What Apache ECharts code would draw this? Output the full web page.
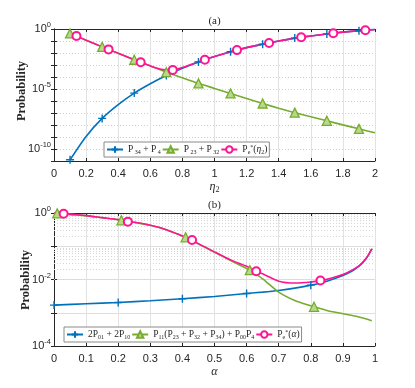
<!DOCTYPE html>
<html><head><meta charset="utf-8">
<script src="https://cdn.jsdelivr.net/npm/echarts@6/dist/echarts.min.js"></script>
<style>html,body{margin:0;padding:0;background:#fff}#c{width:415px;height:388px}</style>
</head><body><div id="c"></div>
<script>
// ================= Panel (a) : probability vs eta2 =================
const etaX = [0.1,0.2,0.3,0.4,0.5,0.6,0.7,0.8,0.9,1.0,1.1,1.2,1.3,1.4,1.5,1.6,1.7,1.8,1.9,2.0];
const a_P34P4 = [1.26e-11,1.12e-9,3.55e-8,5.01e-7,4.57e-6,2.75e-5,1.32e-4,5.25e-4,1.78e-3,5.01e-3,
                 1.26e-2,2.82e-2,5.37e-2,0.100,0.174,0.263,0.389,0.550,0.724,0.912];
const a_P23P32 = [0.427,0.117,3.24e-2,9.33e-3,2.75e-3,8.32e-4,2.51e-4,8.51e-5,2.95e-5,1.12e-5,
                  4.27e-6,1.62e-6,6.17e-7,2.51e-7,1.07e-7,4.90e-8,2.24e-8,1.02e-8,4.79e-9,2.24e-9];
const etaX_Pe = [0.1,0.14,0.2,0.3,0.34,0.4,0.5,0.54,0.6,0.65,0.7,0.74,0.8,0.9,0.94,1.0,1.1,1.14,1.2,1.3,
                 1.34,1.4,1.5,1.54,1.6,1.7,1.74,1.8,1.9,1.94,2.0];
const a_Pe = [0.427,0.257,0.117,0.0324,0.0200,9.33e-3,2.75e-3,1.70e-3,8.51e-4,5.1e-4,3.83e-4,3.9e-4,6.2e-4,
              1.82e-3,2.75e-3,5.01e-3,1.26e-2,1.74e-2,2.82e-2,5.37e-2,6.92e-2,0.100,0.174,0.204,0.263,
              0.389,0.447,0.550,0.724,0.794,0.912];
const a_mark_P34P4 = [0.1,0.3,0.5,0.7,0.9,1.1,1.3,1.5,1.7,1.9];
const a_mark_P23P32 = [0.1,0.3,0.5,0.7,0.9,1.1,1.3,1.5,1.7,1.9];
const a_mark_Pe = [0.14,0.34,0.54,0.74,0.94,1.14,1.34,1.54,1.74,1.94];
const a_xTicks = ['0','0.2','0.4','0.6','0.8','1','1.2','1.4','1.6','1.8','2'];
const a_yTickExp = [0,-5,-10];

// ================= Panel (b) : probability vs alpha =================
const alphaX_B = [0,0.1,0.2,0.3,0.4,0.5,0.6,0.65,0.7,0.75,0.8,0.85,0.9,0.93,0.95,0.96,0.97,0.98,0.99];
const b_2P01 = [1.70e-3,1.86e-3,2.04e-3,2.29e-3,2.63e-3,3.09e-3,3.80e-3,4.17e-3,4.68e-3,5.50e-3,6.76e-3,
                8.91e-3,1.32e-2,1.82e-2,2.51e-2,3.09e-2,3.98e-2,5.50e-2,8.32e-2];
const alphaX_G = [0,0.01,0.05,0.1,0.15,0.2,0.21,0.25,0.3,0.35,0.4,0.41,0.45,0.5,0.55,0.6,0.61,0.65,0.7,
                  0.75,0.8,0.81,0.85,0.9,0.95,0.99];
const b_P11 = [1.0,0.977,0.912,0.832,0.724,0.631,0.603,0.525,0.427,0.316,0.204,0.186,0.117,0.0661,0.0372,
               0.0214,0.0191,0.0105,4.17e-3,2.34e-3,1.62e-3,1.51e-3,1.17e-3,9.33e-4,7.41e-4,5.75e-4];
const alphaX_M = [0,0.03,0.05,0.1,0.15,0.2,0.23,0.25,0.3,0.35,0.4,0.43,0.45,0.5,0.55,0.6,0.63,0.65,0.7,
                  0.75,0.8,0.83,0.85,0.9,0.93,0.95,0.96,0.97,0.98,0.99];
const b_Pe = [1.0,0.955,0.912,0.832,0.724,0.631,0.55,0.525,0.427,0.316,0.204,0.155,0.120,0.0676,0.0389,
              0.0251,0.0178,0.0148,8.91e-3,7.85e-3,8.38e-3,9.33e-3,1.01e-2,1.42e-2,1.95e-2,2.58e-2,
              3.17e-2,4.07e-2,5.62e-2,8.38e-2];
const b_mark_2P01 = [0,0.2,0.4,0.6,0.8];
const b_mark_P11 = [0.01,0.21,0.41,0.61,0.81];
const b_mark_Pe = [0.03,0.23,0.43,0.63,0.83];
const b_xTicks = ['0','0.1','0.2','0.3','0.4','0.5','0.6','0.7','0.8','0.9','1'];
const b_yTickExp = [0,-2,-4];

// ================= styling =================
const BLUE = '#0072BD', GREEN = '#77AC30', MAG = '#FF1493';
const PLUS = 'path://M0,5L10,5M5,0L5,10';
const AXC = '#262626';
const SANS = 'Liberation Sans, Arial, sans-serif';
const SERIF = 'Liberation Serif, DejaVu Serif, serif';

function build(xs, ys, marks, sym) {
  return xs.map((x, i) => ({
    value: [x, ys[i]],
    symbol: marks.some(m => Math.abs(m - x) < 1e-9) ? sym : 'none'
  }));
}
function lineSeries(name, xi, yi, xs, ys, marks, sym, color, extra) {
  return Object.assign({
    type: 'line', name, xAxisIndex: xi, yAxisIndex: yi,
    data: build(xs, ys, marks, sym),
    symbol: sym, showSymbol: true, showAllSymbol: true, smooth: 0.25,
    lineStyle: { color, width: 1.6 }, color,
    itemStyle: { color, borderColor: color, borderWidth: 1.4 },
    emphasis: { disabled: true }, z: 5, clip: true
  }, extra || {});
}
function tickFmt(list) {
  return function (v) {
    const s = String(Math.round(v * 1000) / 1000);
    return list.indexOf(s) >= 0 ? s : '';
  };
}
function expFmt(exps) {
  return function (v) {
    const e = Math.round(Math.log10(v));
    return exps.indexOf(e) >= 0 ? '{b|10}{s|' + e + '}' : '';
  };
}
const expRich = {
  b: { fontFamily: SANS, fontSize: 11, color: AXC },
  s: { fontFamily: SANS, fontSize: 7.5, color: AXC, padding: [0, 0, 8, 0] }
};
function xAx(grid, max, interval, ticks, top) {
  return {
    type: 'value', gridIndex: grid, min: 0, max, interval, position: top ? 'top' : 'bottom',
    axisLine: { show: true, onZero: false, lineStyle: { color: AXC, width: 1 } },
    axisTick: { show: true, inside: true, length: 3, lineStyle: { color: AXC } },
    axisLabel: top ? { show: false } : { show: true, margin: 7, fontFamily: SANS, fontSize: 11, color: AXC, formatter: tickFmt(ticks) },
    splitLine: { show: !top, lineStyle: { color: '#e2e2e2', width: 1 } }
  };
}
function yAx(grid, min, exps, right, splitStyle) {
  return {
    type: 'log', logBase: 10, gridIndex: grid, min, max: 1, interval: 1, position: right ? 'right' : 'left',
    axisLine: { show: true, lineStyle: { color: AXC, width: 1 } },
    axisTick: { show: true, inside: true, length: 3, lineStyle: { color: AXC } },
    axisLabel: right ? { show: false } : { show: true, margin: 3, formatter: expFmt(exps), rich: expRich },
    splitLine: { show: !right, lineStyle: splitStyle }
  };
}
function gridLines(xi, yi, vals, style) {
  return {
    type: 'line', xAxisIndex: xi, yAxisIndex: yi, data: [], silent: true, z: 1,
    markLine: { silent: true, symbol: ['none', 'none'], label: { show: false }, animation: false,
      lineStyle: style, emphasis: { disabled: true }, data: vals.map(v => ({ yAxis: v })) }
  };
}
// minor log grid positions for panel (b)
const bMinor = [];
for (let e = -4; e < 0; e++) for (let k = 2; k <= 9; k++) bMinor.push(k * Math.pow(10, e));

const legRich = {
  p: { fontFamily: SERIF, fontSize: 9.5, color: AXC },
  n: { fontFamily: SERIF, fontSize: 9.5, color: AXC },
  i: { fontFamily: SERIF, fontSize: 9.5, fontStyle: 'italic', color: AXC },
  sb: { fontFamily: SERIF, fontSize: 6, color: AXC, padding: [5, 0, 0, 0] },
  sp: { fontFamily: SERIF, fontSize: 6, color: AXC, padding: [0, 0, 5, 0] }
};
const legNames = {
  'P34+P4': '{p|P}{sb| 34}{n| + P}{sb| 4}',
  'P23+P32': '{p|P}{sb| 23}{n| + P}{sb| 32}',
  'Pe_eta': '{p|P}{sb|e}{sp|*}{n|(}{i|η}{sb|2}{n|)}',
  '2P01+2P10': '{n|2P}{sb|01}{n| + 2P}{sb|10}',
  'P11': '{p|P}{sb|11}{n|(P}{sb|23}{n| + P}{sb|32}{n| + P}{sb|34}{n|) + P}{sb|00}{n|P}{sb|4}',
  'Pe_alpha': '{p|P}{sb|e}{sp|*}{n|(}{i|α}{n|)}'
};
function legend(names, left, top) {
  return {
    data: names, left, top, orient: 'horizontal', selectedMode: false,
    itemWidth: 16, itemHeight: 8, itemGap: 1, padding: [2, 2, 2, 2],
    borderColor: '#8a8a8a', borderWidth: 1, backgroundColor: '#fff', borderRadius: 0,
    textStyle: { rich: legRich, fontSize: 9.5 },
    formatter: n => legNames[n]
  };
}

const chart = echarts.init(document.getElementById('c'), null, { renderer: 'canvas' });
chart.setOption({
  animation: false,
  backgroundColor: '#fff',
  grid: [
    { left: 54, top: 29, width: 321, height: 132, show: false },
    { left: 54, top: 213, width: 321, height: 133, show: false }
  ],
  xAxis: [
    xAx(0, 2, 0.2, a_xTicks, false), xAx(0, 2, 0.2, a_xTicks, true),
    xAx(1, 1, 0.1, b_xTicks, false), xAx(1, 1, 0.1, b_xTicks, true)
  ],
  yAxis: [
    yAx(0, 1e-11, a_yTickExp, false, { color: '#cfcfcf', type: [1, 2], width: 1 }),
    yAx(0, 1e-11, a_yTickExp, true),
    yAx(1, 1e-4, b_yTickExp, false, { color: '#dedede', width: 1 }),
    yAx(1, 1e-4, b_yTickExp, true)
  ],
  legend: [
    legend(['P34+P4', 'P23+P32', 'Pe_eta'], 104, 142),
    legend(['2P01+2P10', 'P11', 'Pe_alpha'], 64, 327)
  ],
  series: [
    gridLines(0, 0, [1e-10, 1e-5], { color: '#e2e2e2', type: 'solid', width: 1 }),
    gridLines(2, 2, bMinor, { color: '#d6d6d6', type: [1, 2], width: 1 }),
    lineSeries('P34+P4', 0, 0, etaX, a_P34P4, a_mark_P34P4, PLUS, BLUE, { symbolSize: 8 }),
    lineSeries('P23+P32', 0, 0, etaX, a_P23P32, a_mark_P23P32, 'triangle', GREEN,
      { symbolSize: 9, itemStyle: { color: '#b9d98a', borderColor: GREEN, borderWidth: 1.3 } }),
    lineSeries('Pe_eta', 0, 0, etaX_Pe, a_Pe, a_mark_Pe, 'emptyCircle', MAG, { symbolSize: 8 }),
    lineSeries('2P01+2P10', 2, 2, alphaX_B, b_2P01, b_mark_2P01, PLUS, BLUE, { symbolSize: 8 }),
    lineSeries('P11', 2, 2, alphaX_G, b_P11, b_mark_P11, 'triangle', GREEN,
      { symbolSize: 9, itemStyle: { color: '#b9d98a', borderColor: GREEN, borderWidth: 1.3 } }),
    lineSeries('Pe_alpha', 2, 2, alphaX_M, b_Pe, b_mark_Pe, 'emptyCircle', MAG, { symbolSize: 8 })
  ],
  graphic: [
    { type: 'text', x: 214.5, y: 21, style: { text: '(a)', font: '11px ' + SERIF, fill: AXC, align: 'center', verticalAlign: 'middle' } },
    { type: 'text', x: 214.5, y: 205.5, style: { text: '(b)', font: '11px ' + SERIF, fill: AXC, align: 'center', verticalAlign: 'middle' } },
    { type: 'text', x: 22, y: 91, rotation: Math.PI / 2,
      style: { text: 'Probability', font: 'bold 12.5px ' + SERIF, fill: AXC, align: 'center', verticalAlign: 'middle' } },
    { type: 'text', x: 26, y: 280, rotation: Math.PI / 2,
      style: { text: 'Probability', font: 'bold 12.5px ' + SERIF, fill: AXC, align: 'center', verticalAlign: 'middle' } },
    { type: 'text', x: 214.5, y: 187, style: { text: '{i|η}{s|2}', align: 'center', verticalAlign: 'middle',
      rich: { i: { font: 'italic 12px ' + SERIF, fill: AXC }, s: { font: '8px ' + SERIF, fill: AXC, padding: [5, 0, 0, 0] } } } },
    { type: 'text', x: 214.5, y: 372, style: { text: 'α', font: 'italic 12px ' + SERIF, fill: AXC, align: 'center', verticalAlign: 'middle' } }
  ]
});
</script></body></html>
